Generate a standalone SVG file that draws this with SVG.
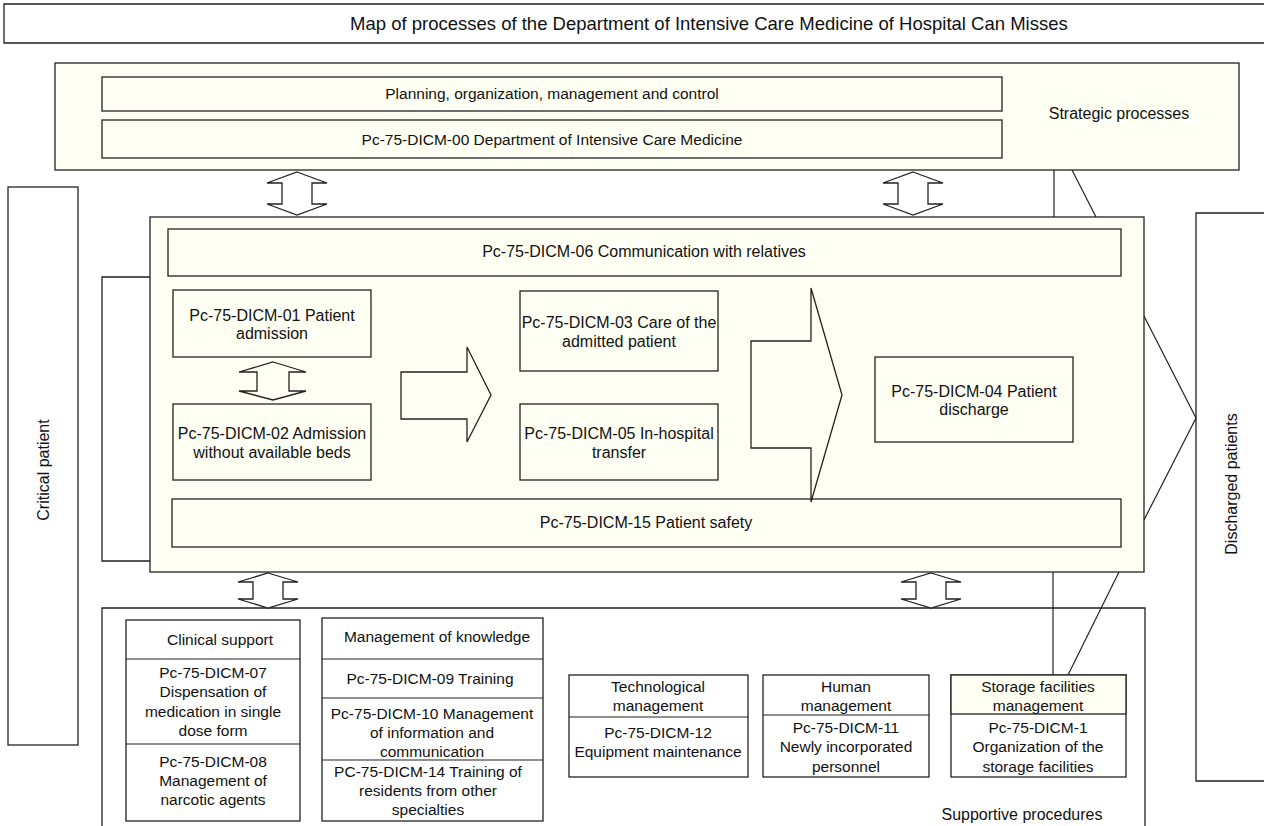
<svg xmlns="http://www.w3.org/2000/svg" width="1264" height="826" viewBox="0 0 1264 826">
<style>
text{font-family:"Liberation Sans",Arial,Helvetica,sans-serif;font-size:16px;fill:#111;text-anchor:middle}
.t{font-size:18.5px;text-anchor:start}
.s{font-size:15.5px}
.c{fill:#FFFFF3;stroke:#222;stroke-width:1.3}
.w{fill:#fff;stroke:#222;stroke-width:1.3}
.o{fill:none;stroke:#222;stroke-width:1.3}
.ln{fill:none;stroke:#222;stroke-width:1.2}
</style>
<defs>
<path id="dblU" d="M0,0 L30,11 L15,11 L15,32 L30,32 L0,43 L-30,32 L-15,32 L-15,11 L-30,11 Z"/>
<path id="dblL" d="M0,0 L30,9 L15,9 L15,26 L30,26 L0,35 L-30,26 L-15,26 L-15,9 L-30,9 Z"/>
</defs>

<g id="title">
<path class="w" d="M1270,4 H4 V43 H1270" stroke-width="1.8" stroke="#333"/>
<text class="t" x="350" y="30">Map of processes of the Department of Intensive Care Medicine of Hospital Can Misses</text>
</g>

<g id="critical-patient">
<rect class="w" x="8" y="187" width="70" height="558"/>
<text transform="translate(49,470) rotate(-90)">Critical patient</text>
</g>

<g id="discharged-patients">
<path class="w" d="M1270,213 H1196 V781 H1270"/>
<text transform="translate(1237,484) rotate(-90)">Discharged patients</text>
</g>

<g id="strategic">
<rect class="c" x="55" y="63" width="1184" height="107"/>
<text x="1119" y="119">Strategic processes</text>
</g>
<g id="planning">
<rect class="c" x="102" y="77" width="900" height="34"/>
<text class="s" x="552" y="99">Planning, organization, management and control</text>
</g>
<g id="dicm-00">
<rect class="c" x="102" y="120" width="900" height="38"/>
<text class="s" x="552" y="145">Pc-75-DICM-00 Department of Intensive Care Medicine</text>
</g>

<g id="supportive">
<path class="w" d="M102,830 V608 H1145 V830"/>
<text x="1022" y="820">Supportive procedures</text>
</g>

<g id="back-frame">
<path class="w" d="M160,277 H102 V561 H160"/>
</g>

<g id="operative">
<rect class="c" x="150" y="217" width="994" height="355"/>
</g>
<g id="dicm-06">
<rect class="c" x="168" y="229" width="953" height="47"/>
<text x="644" y="257">Pc-75-DICM-06 Communication with relatives</text>
</g>
<g id="dicm-01">
<rect class="c" x="173" y="290" width="198" height="67"/>
<text x="272" y="321">Pc-75-DICM-01 Patient<tspan x="272" y="339">admission</tspan></text>
</g>
<g id="dicm-02">
<rect class="c" x="173" y="404" width="198" height="76"/>
<text x="272" y="439">Pc-75-DICM-02 Admission<tspan x="272" y="458">without available beds</tspan></text>
</g>
<g id="dicm-03">
<rect class="c" x="520" y="291" width="198" height="80"/>
<text x="619" y="328">Pc-75-DICM-03 Care of the<tspan x="619" y="347">admitted patient</tspan></text>
</g>
<g id="dicm-05">
<rect class="c" x="520" y="404" width="198" height="76"/>
<text x="619" y="439">Pc-75-DICM-05 In-hospital<tspan x="619" y="458">transfer</tspan></text>
</g>
<g id="dicm-04">
<rect class="c" x="875" y="357" width="198" height="85"/>
<text x="974" y="397">Pc-75-DICM-04 Patient<tspan x="974" y="415">discharge</tspan></text>
</g>
<g id="dicm-15">
<rect class="c" x="172" y="499" width="949" height="48"/>
<text x="646" y="528">Pc-75-DICM-15 Patient safety</text>
</g>

<g id="clinical-support">
<rect class="w" x="126" y="620" width="174" height="201"/>
<line class="ln" x1="126" y1="659" x2="300" y2="659"/>
<line class="ln" x1="126" y1="744" x2="300" y2="744"/>
<text class="s" x="220" y="645">Clinical support</text>
<text class="s" x="213" y="678">Pc-75-DICM-07<tspan x="213" y="697">Dispensation of</tspan><tspan x="213" y="717">medication in single</tspan><tspan x="213" y="736">dose form</tspan></text>
<text class="s" x="213" y="767">Pc-75-DICM-08<tspan x="213" y="786">Management of</tspan><tspan x="213" y="805">narcotic agents</tspan></text>
</g>

<g id="knowledge">
<rect class="w" x="322" y="618" width="221" height="203"/>
<line class="ln" x1="322" y1="659" x2="543" y2="659"/>
<line class="ln" x1="322" y1="698" x2="543" y2="698"/>
<line class="ln" x1="322" y1="760" x2="543" y2="760"/>
<text class="s" x="437" y="642">Management of knowledge</text>
<text class="s" x="430" y="684">Pc-75-DICM-09 Training</text>
<text class="s" x="432" y="719">Pc-75-DICM-10 Management<tspan x="432" y="738">of information and</tspan><tspan x="432" y="757">communication</tspan></text>
<text class="s" x="428" y="777">PC-75-DICM-14 Training of<tspan x="428" y="796">residents from other</tspan><tspan x="428" y="815">specialties</tspan></text>
</g>

<g id="technological">
<rect class="w" x="569" y="675" width="179" height="102"/>
<line class="ln" x1="569" y1="717" x2="748" y2="717"/>
<text class="s" x="658" y="692">Technological<tspan x="658" y="711">management</tspan></text>
<text class="s" x="658" y="738">Pc-75-DICM-12<tspan x="658" y="757">Equipment maintenance</tspan></text>
</g>

<g id="human">
<rect class="w" x="763" y="675" width="166" height="102"/>
<line class="ln" x1="763" y1="715" x2="929" y2="715"/>
<text class="s" x="846" y="692">Human<tspan x="846" y="711">management</tspan></text>
<text class="s" x="846" y="733">Pc-75-DICM-11<tspan x="846" y="752">Newly incorporated</tspan><tspan x="846" y="772">personnel</tspan></text>
</g>

<g id="storage">
<rect class="w" x="951" y="675" width="175" height="102"/>
<rect class="c" x="951" y="675" width="175" height="39"/>
<text class="s" x="1038" y="692">Storage facilities<tspan x="1038" y="711">management</tspan></text>
<text class="s" x="1038" y="733">Pc-75-DICM-1<tspan x="1038" y="752">Organization of the</tspan><tspan x="1038" y="772">storage facilities</tspan></text>
</g>

<g id="connectors">
<use href="#dblU" x="297" y="172" class="w"/>
<use href="#dblU" x="913" y="172" class="w"/>
<use href="#dblL" x="268" y="573" class="w"/>
<use href="#dblL" x="931" y="573" class="w"/>
<path class="o" d="M273,362 L306,372 L289,372 L289,391 L306,391 L273,400 L239,391 L257,391 L257,372 L239,372 Z"/>
<path class="o" d="M401,372 L467,372 L467,347 L491,395 L467,442 L467,419 L401,419 Z"/>
<path class="o" d="M751,341 L811,341 L811,288 L842,395 L811,502 L811,448 L751,448 Z"/>
<path class="ln" d="M1144,316 L1196,418 L1144,520"/>
<line class="ln" x1="1054" y1="170" x2="1054" y2="217"/>
<line class="ln" x1="1072" y1="170" x2="1096" y2="217"/>
<line class="ln" x1="1053" y1="572" x2="1053" y2="675"/>
<line class="ln" x1="1119" y1="572" x2="1068" y2="675"/>
</g>
</svg>
